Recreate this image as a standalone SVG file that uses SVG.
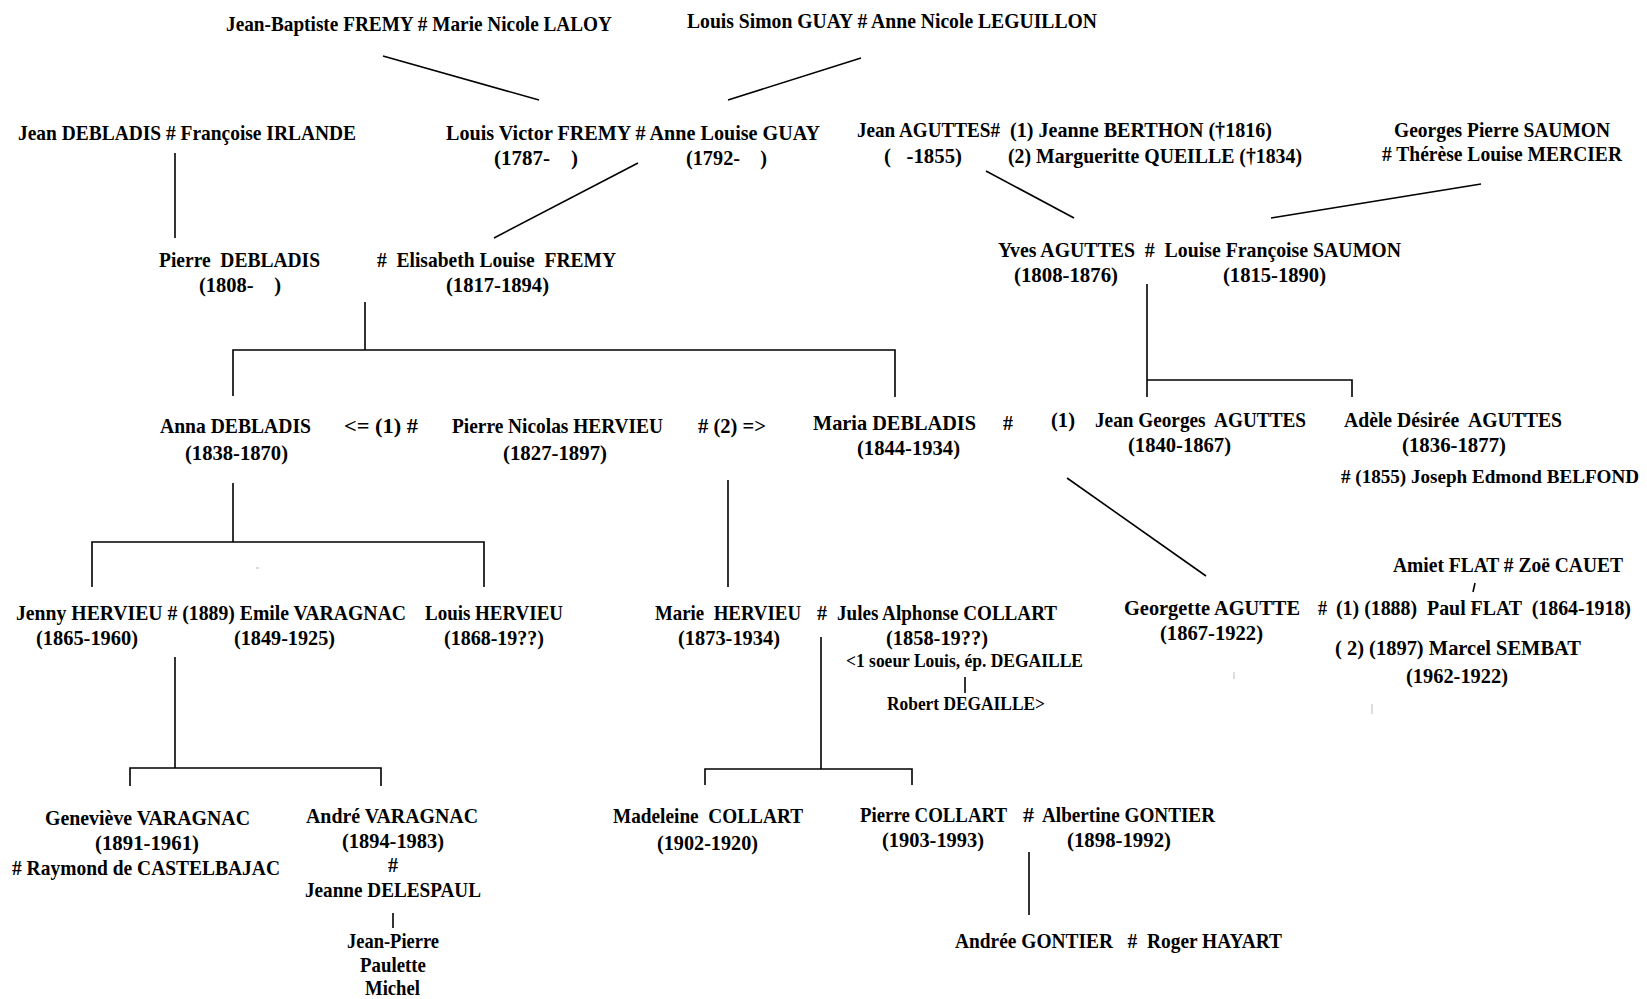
<svg xmlns="http://www.w3.org/2000/svg" width="1647" height="999" viewBox="0 0 1647 999">
<style>
text{font-family:"Liberation Serif","Times New Roman",serif;font-weight:bold;font-size:21px;fill:#000}
.c line,.c polyline{stroke:#000;stroke-width:1.6;fill:none}
.c .faint{stroke:#bbb;stroke-width:1}
</style>
<rect width="1647" height="999" fill="#fff"/>
<g class="c" id="connectors">
<line x1="383" y1="56" x2="539" y2="100"/>
<line x1="861" y1="58" x2="728" y2="100"/>
<line x1="175" y1="153" x2="175" y2="238"/>
<line x1="638" y1="163" x2="494" y2="238"/>
<line x1="986" y1="171" x2="1074" y2="218"/>
<line x1="1481" y1="184" x2="1271" y2="218"/>
<line x1="365" y1="302" x2="365" y2="350"/>
<polyline points="233,396 233,350 895,350 895,397"/>
<line x1="1147" y1="284" x2="1147" y2="397"/>
<polyline points="1147,380 1352,380 1352,397"/>
<line x1="233" y1="483" x2="233" y2="542"/>
<polyline points="92,587 92,542 484,542 484,587"/>
<line x1="728" y1="480" x2="728" y2="587"/>
<line x1="1067" y1="478" x2="1206" y2="576"/>
<line x1="1475" y1="583" x2="1473" y2="592"/>
<line x1="821" y1="637" x2="821" y2="769"/>
<polyline points="705,785 705,769 912,769 912,785"/>
<line x1="965" y1="677" x2="965" y2="693"/>
<line x1="175" y1="657" x2="175" y2="768"/>
<polyline points="130,786 130,768 381,768 381,786"/>
<line x1="393" y1="913" x2="393" y2="928"/>
<line x1="1029" y1="852" x2="1029" y2="915"/>
<line class="faint" x1="256" y1="568" x2="259" y2="568"/>
<line class="faint" x1="1234" y1="672" x2="1234" y2="679"/>
<line class="faint" x1="1372" y1="704" x2="1372" y2="714"/>
</g>
<g id="n-fremy-laloy"><text x="226" y="31" textLength="386" lengthAdjust="spacingAndGlyphs">Jean-Baptiste FREMY # Marie Nicole LALOY</text></g>
<g id="n-guay-leguillon"><text x="687" y="28" textLength="410" lengthAdjust="spacingAndGlyphs">Louis Simon GUAY # Anne Nicole LEGUILLON</text></g>
<g id="n-debladis-irlande"><text x="18" y="140" textLength="338" lengthAdjust="spacingAndGlyphs">Jean DEBLADIS # Françoise IRLANDE</text></g>
<g id="n-fremy-guay">
<text x="446" y="140" textLength="374" lengthAdjust="spacingAndGlyphs">Louis Victor  FREMY #  Anne Louise GUAY</text>
<text x="494" y="165" textLength="84" lengthAdjust="spacingAndGlyphs" xml:space="preserve">(1787-    )</text>
<text x="686" y="165" textLength="81" lengthAdjust="spacingAndGlyphs" xml:space="preserve">(1792-    )</text>
</g>
<g id="n-jean-aguttes">
<text x="857" y="137" textLength="143" lengthAdjust="spacingAndGlyphs">Jean AGUTTES#</text>
<text x="884" y="163" textLength="78" lengthAdjust="spacingAndGlyphs" xml:space="preserve">(   -1855)</text>
<text x="1010" y="137" textLength="262" lengthAdjust="spacingAndGlyphs">(1) Jeanne BERTHON (†1816)</text>
<text x="1008" y="163" textLength="294" lengthAdjust="spacingAndGlyphs">(2) Margueritte QUEILLE (†1834)</text>
</g>
<g id="n-saumon-mercier">
<text x="1394" y="137" textLength="216" lengthAdjust="spacingAndGlyphs">Georges Pierre SAUMON</text>
<text x="1382" y="161" textLength="240" lengthAdjust="spacingAndGlyphs"># Thérèse Louise MERCIER</text>
</g>
<g id="n-pierre-debladis">
<text x="159" y="267" textLength="161" lengthAdjust="spacingAndGlyphs" xml:space="preserve">Pierre  DEBLADIS</text>
<text x="199" y="292" textLength="82" lengthAdjust="spacingAndGlyphs" xml:space="preserve">(1808-    )</text>
</g>
<g id="n-elisabeth-fremy">
<text x="377" y="267" textLength="239" lengthAdjust="spacingAndGlyphs" xml:space="preserve">#  Elisabeth Louise  FREMY</text>
<text x="446" y="292" textLength="103" lengthAdjust="spacingAndGlyphs">(1817-1894)</text>
</g>
<g id="n-yves-aguttes">
<text x="998" y="257" textLength="403" lengthAdjust="spacingAndGlyphs" xml:space="preserve">Yves AGUTTES  #  Louise Françoise SAUMON</text>
<text x="1014" y="282" textLength="104" lengthAdjust="spacingAndGlyphs">(1808-1876)</text>
<text x="1223" y="282" textLength="103" lengthAdjust="spacingAndGlyphs">(1815-1890)</text>
</g>
<g id="n-anna-debladis">
<text x="160" y="433" textLength="151" lengthAdjust="spacingAndGlyphs">Anna DEBLADIS</text>
<text x="185" y="460" textLength="103" lengthAdjust="spacingAndGlyphs">(1838-1870)</text>
<text x="344" y="433" textLength="74" lengthAdjust="spacingAndGlyphs">&lt;= (1) #</text>
</g>
<g id="n-pierre-nicolas-hervieu">
<text x="452" y="433" textLength="211" lengthAdjust="spacingAndGlyphs">Pierre Nicolas HERVIEU</text>
<text x="503" y="460" textLength="104" lengthAdjust="spacingAndGlyphs">(1827-1897)</text>
<text x="698" y="433" textLength="68" lengthAdjust="spacingAndGlyphs"># (2) =&gt;</text>
</g>
<g id="n-maria-debladis">
<text x="813" y="430" textLength="163" lengthAdjust="spacingAndGlyphs">Maria DEBLADIS</text>
<text x="1003" y="430" textLength="10" lengthAdjust="spacingAndGlyphs">#</text>
<text x="857" y="455" textLength="103" lengthAdjust="spacingAndGlyphs">(1844-1934)</text>
</g>
<g id="n-jean-georges-aguttes">
<text x="1051" y="427" textLength="24" lengthAdjust="spacingAndGlyphs">(1)</text>
<text x="1095" y="427" textLength="211" lengthAdjust="spacingAndGlyphs" xml:space="preserve">Jean Georges  AGUTTES</text>
<text x="1128" y="452" textLength="103" lengthAdjust="spacingAndGlyphs">(1840-1867)</text>
</g>
<g id="n-adele-aguttes">
<text x="1344" y="427" textLength="218" lengthAdjust="spacingAndGlyphs" xml:space="preserve">Adèle Désirée  AGUTTES</text>
<text x="1402" y="452" textLength="104" lengthAdjust="spacingAndGlyphs">(1836-1877)</text>
<text x="1341" y="483" textLength="298" lengthAdjust="spacingAndGlyphs" style="font-size:19px"># (1855) Joseph Edmond BELFOND</text>
</g>
<g id="n-jenny-hervieu">
<text x="16" y="620" textLength="390" lengthAdjust="spacingAndGlyphs">Jenny HERVIEU # (1889) Emile VARAGNAC</text>
<text x="36" y="645" textLength="102" lengthAdjust="spacingAndGlyphs">(1865-1960)</text>
<text x="234" y="645" textLength="101" lengthAdjust="spacingAndGlyphs">(1849-1925)</text>
</g>
<g id="n-louis-hervieu">
<text x="425" y="620" textLength="138" lengthAdjust="spacingAndGlyphs">Louis HERVIEU</text>
<text x="444" y="645" textLength="100" lengthAdjust="spacingAndGlyphs">(1868-19??)</text>
</g>
<g id="n-marie-hervieu">
<text x="655" y="620" textLength="146" lengthAdjust="spacingAndGlyphs" xml:space="preserve">Marie  HERVIEU</text>
<text x="817" y="620" textLength="10" lengthAdjust="spacingAndGlyphs">#</text>
<text x="678" y="645" textLength="102" lengthAdjust="spacingAndGlyphs">(1873-1934)</text>
</g>
<g id="n-jules-collart">
<text x="837" y="620" textLength="220" lengthAdjust="spacingAndGlyphs">Jules Alphonse COLLART</text>
<text x="886" y="645" textLength="102" lengthAdjust="spacingAndGlyphs">(1858-19??)</text>
<text x="846" y="667" textLength="237" lengthAdjust="spacingAndGlyphs" style="font-size:18px">&lt;1 soeur Louis, ép. DEGAILLE</text>
<text x="887" y="710" textLength="158" lengthAdjust="spacingAndGlyphs" style="font-size:18px">Robert DEGAILLE&gt;</text>
</g>
<g id="n-flat-cauet"><text x="1393" y="572" textLength="230" lengthAdjust="spacingAndGlyphs">Amiet FLAT # Zoë CAUET</text></g>
<g id="n-georgette-agutte">
<text x="1124" y="615" textLength="176" lengthAdjust="spacingAndGlyphs">Georgette AGUTTE</text>
<text x="1318" y="615" textLength="9" lengthAdjust="spacingAndGlyphs">#</text>
<text x="1160" y="640" textLength="103" lengthAdjust="spacingAndGlyphs">(1867-1922)</text>
</g>
<g id="n-paul-flat"><text x="1336" y="615" textLength="295" lengthAdjust="spacingAndGlyphs" xml:space="preserve">(1) (1888)  Paul FLAT  (1864-1918)</text></g>
<g id="n-marcel-sembat">
<text x="1335" y="655" textLength="246" lengthAdjust="spacingAndGlyphs">( 2) (1897) Marcel SEMBAT</text>
<text x="1406" y="683" textLength="102" lengthAdjust="spacingAndGlyphs">(1962-1922)</text>
</g>
<g id="n-genevieve-varagnac">
<text x="45" y="825" textLength="205" lengthAdjust="spacingAndGlyphs">Geneviève VARAGNAC</text>
<text x="95" y="850" textLength="104" lengthAdjust="spacingAndGlyphs">(1891-1961)</text>
<text x="12" y="875" textLength="268" lengthAdjust="spacingAndGlyphs"># Raymond de CASTELBAJAC</text>
</g>
<g id="n-andre-varagnac">
<text x="306" y="823" textLength="172" lengthAdjust="spacingAndGlyphs">André VARAGNAC</text>
<text x="342" y="848" textLength="102" lengthAdjust="spacingAndGlyphs">(1894-1983)</text>
<text x="388" y="872" textLength="10" lengthAdjust="spacingAndGlyphs">#</text>
<text x="305" y="897" textLength="176" lengthAdjust="spacingAndGlyphs">Jeanne DELESPAUL</text>
</g>
<g id="n-varagnac-children">
<text x="347" y="948" textLength="92" lengthAdjust="spacingAndGlyphs">Jean-Pierre</text>
<text x="360" y="972" textLength="66" lengthAdjust="spacingAndGlyphs">Paulette</text>
<text x="365" y="995" textLength="55" lengthAdjust="spacingAndGlyphs">Michel</text>
</g>
<g id="n-madeleine-collart">
<text x="613" y="823" textLength="190" lengthAdjust="spacingAndGlyphs" xml:space="preserve">Madeleine  COLLART</text>
<text x="657" y="850" textLength="101" lengthAdjust="spacingAndGlyphs">(1902-1920)</text>
</g>
<g id="n-pierre-collart">
<text x="860" y="822" textLength="147" lengthAdjust="spacingAndGlyphs">Pierre COLLART</text>
<text x="1023" y="822" textLength="11" lengthAdjust="spacingAndGlyphs">#</text>
<text x="882" y="847" textLength="102" lengthAdjust="spacingAndGlyphs">(1903-1993)</text>
</g>
<g id="n-albertine-gontier">
<text x="1042" y="822" textLength="173" lengthAdjust="spacingAndGlyphs">Albertine GONTIER</text>
<text x="1067" y="847" textLength="104" lengthAdjust="spacingAndGlyphs">(1898-1992)</text>
</g>
<g id="n-andree-gontier"><text x="955" y="948" textLength="327" lengthAdjust="spacingAndGlyphs" xml:space="preserve">Andrée GONTIER   #  Roger HAYART</text></g>
</svg>
